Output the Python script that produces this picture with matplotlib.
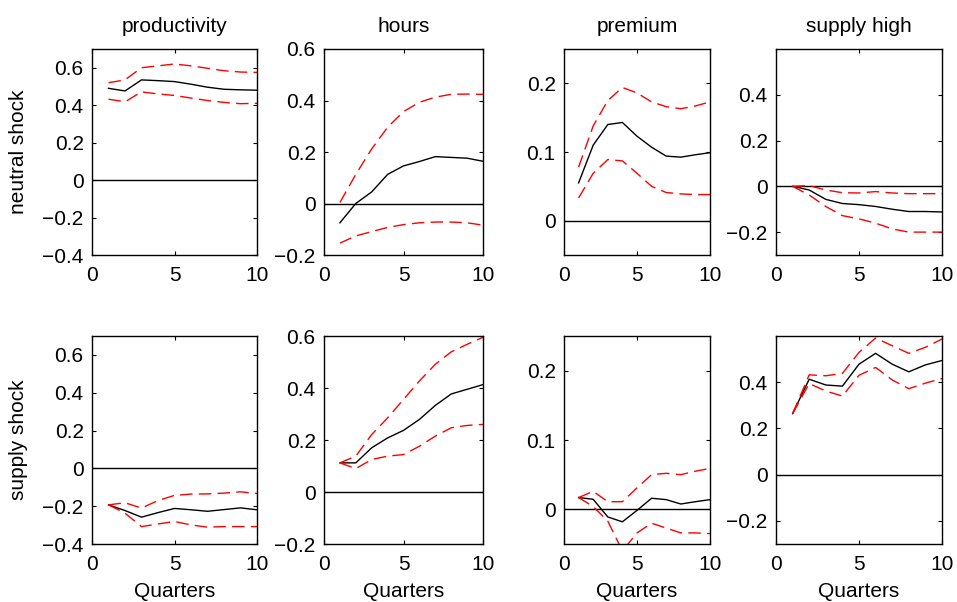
import matplotlib
matplotlib.use("Agg")
import matplotlib.pyplot as plt
import numpy as np

plt.rcParams['font.family'] = ['Liberation Sans', 'DejaVu Sans']
FS = 15
plt.rcParams['font.size'] = FS

quarters = np.arange(1, 11)
col_titles = ["productivity", "hours", "premium", "supply high"]
row_labels = ["neutral shock", "supply shock"]

# neutral shock
prod_n = [0.49, 0.476, 0.535, 0.531, 0.526, 0.512, 0.496, 0.485, 0.482, 0.48]
prod_n_hi = [0.52, 0.535, 0.60, 0.61, 0.62, 0.61, 0.597, 0.584, 0.577, 0.575]
prod_n_lo = [0.432, 0.418, 0.471, 0.46, 0.452, 0.438, 0.425, 0.415, 0.408, 0.41]

hours_n = [-0.075, 0.0, 0.045, 0.113, 0.146, 0.163, 0.182, 0.179, 0.176, 0.164]
hours_n_hi = [0.004, 0.113, 0.212, 0.296, 0.357, 0.393, 0.413, 0.424, 0.425, 0.424]
hours_n_lo = [-0.154, -0.126, -0.109, -0.093, -0.082, -0.075, -0.072, -0.072, -0.075, -0.084]

prem_n = [0.055, 0.11, 0.14, 0.143, 0.123, 0.107, 0.094, 0.0925, 0.096, 0.099]
prem_n_hi = [0.078, 0.138, 0.175, 0.194, 0.186, 0.173, 0.166, 0.163, 0.167, 0.173]
prem_n_lo = [0.033, 0.069, 0.089, 0.087, 0.069, 0.05, 0.041, 0.039, 0.038, 0.038]

sup_n = [0.0, -0.016, -0.057, -0.075, -0.08, -0.088, -0.1, -0.11, -0.11, -0.112]
sup_n_hi = [0.0, 0.003, -0.016, -0.028, -0.029, -0.023, -0.029, -0.032, -0.032, -0.032]
sup_n_lo = [0.0, -0.038, -0.088, -0.128, -0.142, -0.161, -0.186, -0.2, -0.2, -0.2]

# supply shock
prod_s = [-0.193, -0.223, -0.258, -0.234, -0.212, -0.219, -0.227, -0.218, -0.209, -0.219]
prod_s_hi = [-0.193, -0.182, -0.21, -0.17, -0.143, -0.136, -0.135, -0.131, -0.124, -0.133]
prod_s_lo = [-0.193, -0.237, -0.308, -0.294, -0.281, -0.299, -0.311, -0.308, -0.308, -0.308]

hours_s = [0.112, 0.112, 0.17, 0.208, 0.237, 0.279, 0.333, 0.377, 0.395, 0.413]
hours_s_hi = [0.112, 0.138, 0.221, 0.285, 0.356, 0.427, 0.491, 0.539, 0.568, 0.595]
hours_s_lo = [0.112, 0.09, 0.125, 0.138, 0.144, 0.176, 0.215, 0.247, 0.256, 0.26]

prem_s = [0.017, 0.0145, -0.011, -0.018, -0.0015, 0.016, 0.014, 0.0077, 0.011, 0.014]
prem_s_hi = [0.017, 0.026, 0.011, 0.011, 0.031, 0.05, 0.052, 0.05, 0.055, 0.059]
prem_s_lo = [0.017, 0.004, -0.017, -0.06, -0.034, -0.02, -0.027, -0.034, -0.034, -0.035]

sup_s = [0.264, 0.413, 0.388, 0.383, 0.478, 0.525, 0.478, 0.445, 0.475, 0.494]
sup_s_hi = [0.264, 0.432, 0.428, 0.438, 0.529, 0.591, 0.558, 0.525, 0.551, 0.587]
sup_s_lo = [0.264, 0.394, 0.362, 0.34, 0.43, 0.464, 0.41, 0.372, 0.396, 0.416]

series = [
    [(prod_n, prod_n_hi, prod_n_lo), (hours_n, hours_n_hi, hours_n_lo),
     (prem_n, prem_n_hi, prem_n_lo), (sup_n, sup_n_hi, sup_n_lo)],
    [(prod_s, prod_s_hi, prod_s_lo), (hours_s, hours_s_hi, hours_s_lo),
     (prem_s, prem_s_hi, prem_s_lo), (sup_s, sup_s_hi, sup_s_lo)],
]

ylims = [(-0.4, 0.7), (-0.2, 0.6), (-0.05, 0.25), (-0.3, 0.6)]
yticks = [np.arange(-0.4, 0.61, 0.2), np.arange(-0.2, 0.61, 0.2),
          [0, 0.1, 0.2], np.arange(-0.2, 0.41, 0.2)]

W, H = 957, 602
fig = plt.figure(figsize=(W / 100, H / 100), dpi=100)

col_px = [(92, 257), (324, 483), (564, 710), (776, 942)]
row_px = [(49, 255), (336, 544)]

def fmt(v):
    if abs(v) < 1e-9:
        return "0"
    s = "%g" % round(v, 2)
    return s.replace("-", "\u2212")

for r in range(2):
    for c in range(4):
        x0, x1 = col_px[c]
        y0, y1 = row_px[r]
        ax = fig.add_axes([x0 / W, 1 - y1 / H, (x1 - x0) / W, (y1 - y0) / H])
        mid, hi, lo = series[r][c]
        ax.axhline(0, color="black", lw=1.0)
        ax.plot(quarters, mid, color="black", lw=1.0)
        ax.plot(quarters, hi, color="red", lw=1.0, dashes=(9, 4.5))
        ax.plot(quarters, lo, color="red", lw=1.0, dashes=(9, 4.5))
        ax.set_xlim(0, 10)
        ax.set_ylim(*ylims[c])
        ax.set_xticks([0, 5, 10])
        ax.set_yticks(yticks[c])
        ax.set_yticklabels([fmt(v) for v in yticks[c]])
        ax.tick_params(direction="in", top=True, right=True, length=3, width=0.8,
                       labelsize=FS)
        ax.tick_params(axis="x", pad=8)
        ax.tick_params(axis="y", pad=6)
        for sp in ax.spines.values():
            sp.set_linewidth(1.0)
        if r == 0:
            ax.set_title(col_titles[c], fontsize=FS, pad=12)
        else:
            ax.set_xlabel("Quarters", fontsize=FS, labelpad=6)
        if c == 0:
            fig.text(19 / W, 1 - ((y0 + y1) / 2) / H, row_labels[r], rotation=90,
                     ha="center", va="center", fontsize=FS)

fig.savefig("out.png", dpi=100)
